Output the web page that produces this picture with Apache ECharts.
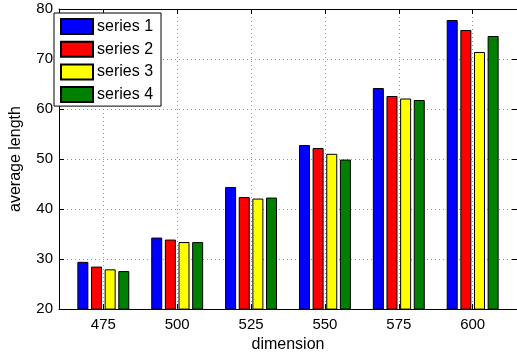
<!DOCTYPE html>
<html><head><meta charset="utf-8">
<script src="https://cdn.jsdelivr.net/npm/echarts@6/dist/echarts.min.js"></script>
<style>html,body{margin:0;padding:0;background:#fff}#c{width:517px;height:358px}</style>
</head><body><div id="c"></div>
<script>
const categories = ['475', '500', '525', '550', '575', '600'];
const seriesNames = ['series 1', 'series 2', 'series 3', 'series 4'];
const series1 = [29.45, 34.3, 44.4, 52.8, 64.2, 77.8];
const series2 = [28.5, 33.9, 42.4, 52.2, 62.6, 75.8];
const series3 = [27.95, 33.4, 42.1, 51.05, 62.1, 71.4];
const series4 = [27.6, 33.4, 42.3, 49.9, 61.8, 74.6];
const yTicks = [20, 30, 40, 50, 60, 70, 80];

const colors = ['#0000ff', '#ff0000', '#ffff00', '#008000'];
const allValues = [series1, series2, series3, series4];
const catPositions = categories.map((c, i) => i + 1);
const font = 'Liberation Sans, Arial, Helvetica, sans-serif';

const chart = echarts.init(document.getElementById('c'), null, {renderer: 'canvas'});
const xCommon = {
  type: 'value', min: 0.4, max: 6.6,
  axisLine: {show: true, lineStyle: {color: '#000', width: 1}},
  axisTick: {show: true, inside: true, length: 5, customValues: catPositions, lineStyle: {color: '#000'}},
};
chart.setOption({
  animation: false,
  textStyle: {fontFamily: font},
  grid: {left: 50, right: -1, top: 9, bottom: 41, containLabel: false},
  legend: {
    orient: 'vertical', left: 54, top: 13,
    data: seriesNames.map(n => ({name: n, icon: 'rect'})),
    itemWidth: 32, itemHeight: 15, itemGap: 5.7,
    padding: [5, 8, 3, 6],
    borderColor: '#000', borderWidth: 1, backgroundColor: '#fff',
    textStyle: {fontSize: 16, lineHeight: 15, color: '#000', fontFamily: font, padding: [0, 0, 0, -1]},
    selectedMode: false
  },
  xAxis: [
    Object.assign({}, xCommon, {
      position: 'bottom',
      name: 'dimension', nameLocation: 'middle', nameGap: 22,
      nameTextStyle: {fontSize: 16, color: '#000', fontFamily: font},
      axisLabel: {show: true, customValues: catPositions, fontSize: 15, color: '#000', margin: 8,
        formatter: v => categories[Math.round(v) - 1] || ''},
      splitLine: {show: true, lineStyle: {color: '#999', type: [1, 3], width: 1}}
    }),
    Object.assign({}, xCommon, {
      position: 'top',
      axisLabel: {show: false},
      splitLine: {show: false}
    })
  ],
  yAxis: [
    {
      type: 'value', min: 20, max: 80, interval: 10, position: 'left',
      name: 'average length', nameLocation: 'middle', nameGap: 35, nameRotate: 90,
      nameTextStyle: {fontSize: 16, color: '#000', fontFamily: font},
      axisLine: {show: true, lineStyle: {color: '#000', width: 1}},
      axisTick: {show: true, inside: true, length: 5, lineStyle: {color: '#000'}},
      axisLabel: {fontSize: 15, color: '#000', margin: 6, formatter: v => yTicks.includes(v) ? String(v) : ''},
      splitLine: {show: true, lineStyle: {color: '#999', type: [1, 3], width: 1}}
    },
    {
      type: 'value', min: 20, max: 80, interval: 10, position: 'right',
      axisLine: {show: true, lineStyle: {color: '#000', width: 1}},
      axisTick: {show: true, inside: true, length: 5, lineStyle: {color: '#000'}},
      axisLabel: {show: false}, splitLine: {show: false}
    }
  ],
  series: seriesNames.map((name, si) => ({
    name: name, type: 'bar',
    xAxisIndex: 0, yAxisIndex: 0,
    barWidth: 11, barGap: '24%',
    itemStyle: {color: colors[si], borderColor: '#000', borderWidth: 1},
    data: allValues[si].map((v, i) => [catPositions[i], v])
  }))
});
</script></body></html>
